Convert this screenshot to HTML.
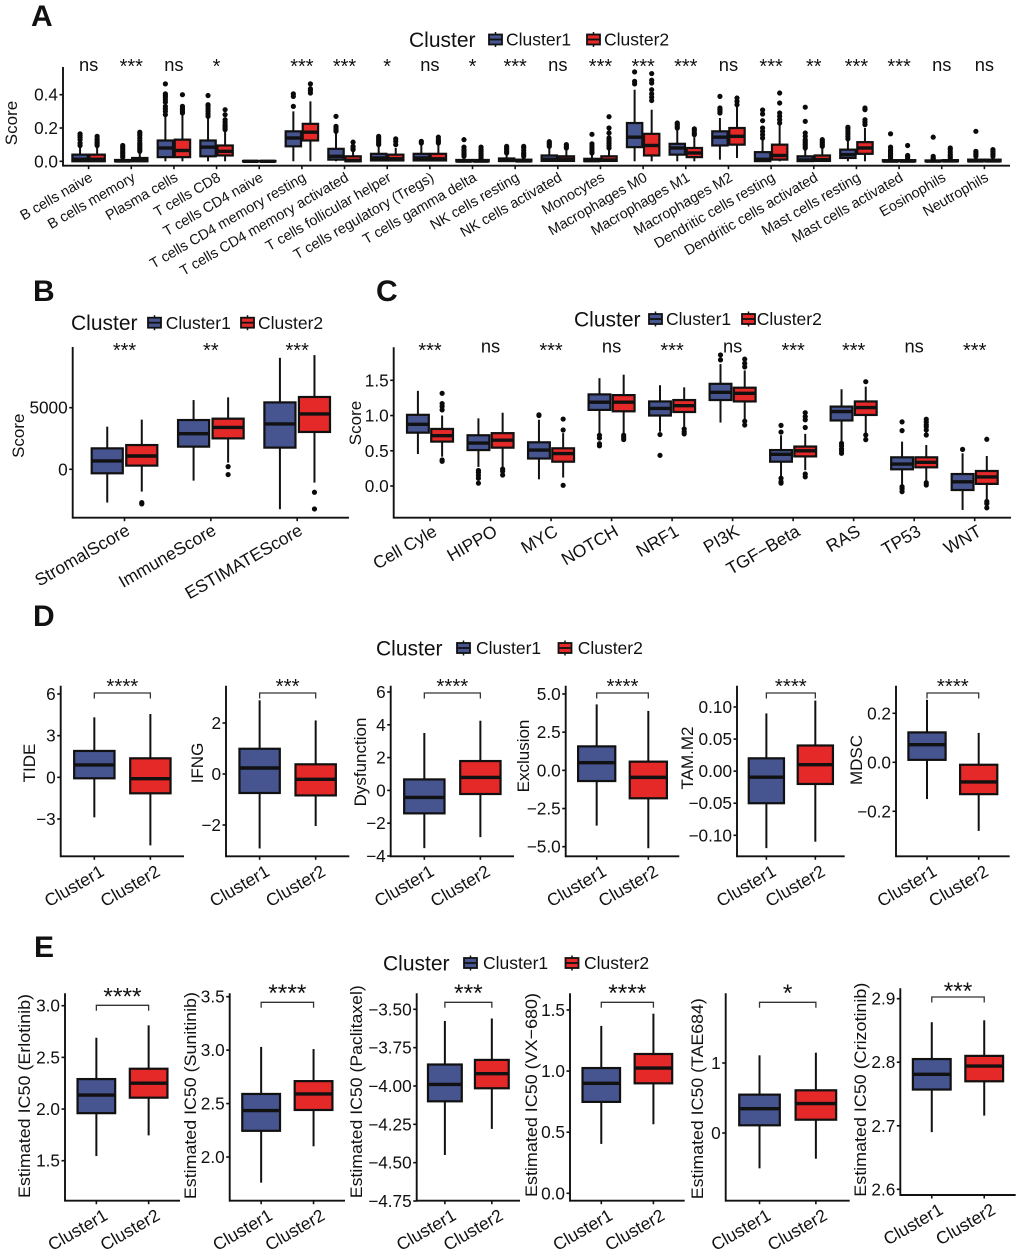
<!DOCTYPE html>
<html lang="en">
<head>
<meta charset="utf-8">
<title>Immune landscape boxplots by cluster</title>
<style>
html,body{margin:0;padding:0;background:#fff;}
svg{display:block;font-family:"Liberation Sans",Arial,sans-serif;filter:blur(0.35px);}
text{fill:#111;}
</style>
</head>
<body>
<svg id="figure" xmlns="http://www.w3.org/2000/svg" width="1020" height="1253" viewBox="0 0 1020 1253">
<rect x="0" y="0" width="1020" height="1253" fill="#fff"/>
<text x="31" y="26" font-size="30" font-weight="bold" fill="#000">A</text>
<text x="33" y="301" font-size="30" font-weight="bold" fill="#000">B</text>
<text x="376" y="301" font-size="30" font-weight="bold" fill="#000">C</text>
<text x="33" y="626" font-size="30" font-weight="bold" fill="#000">D</text>
<text x="34" y="957" font-size="30" font-weight="bold" fill="#000">E</text>
</svg>
<script>
// ---------- Panel A data ----------
const aCategories=['B cells naive','B cells memory','Plasma cells','T cells CD8','T cells CD4 naive','T cells CD4 memory resting','T cells CD4 memory activated','T cells follicular helper','T cells regulatory (Tregs)','T cells gamma delta','NK cells resting','NK cells activated','Monocytes','Macrophages M0','Macrophages M1','Macrophages M2','Dendritic cells resting','Dendritic cells activated','Mast cells resting','Mast cells activated','Eosinophils','Neutrophils'];
const aSignif=['ns','***','ns','*','','***','***','*','ns','*','***','ns','***','***','***','ns','***','**','***','***','ns','ns'];
const aTicks=[0,0.2,0.4];
const aTickLabels=['0.0','0.2','0.4'];
// [low whisker, q1, median, q3, high whisker]
const aCluster1=[[0,0,0.012,0.04,0.09],[0,0,0.002,0.008,0.02],[0,0.025,0.08,0.125,0.27],[0,0.03,0.085,0.125,0.26],[0,0,0,0.002,0.002],[0,0.09,0.14,0.18,0.3],[0,0.01,0.03,0.075,0.17],[0,0.005,0.02,0.045,0.09],[0,0.005,0.02,0.045,0.1],[0,0,0.001,0.008,0.02],[0,0.002,0.005,0.017,0.04],[0,0.002,0.012,0.035,0.08],[0,0.001,0.004,0.015,0.04],[0,0.085,0.145,0.23,0.43],[0,0.04,0.08,0.105,0.19],[0.01,0.095,0.145,0.18,0.26],[0,0.001,0.012,0.055,0.13],[0,0.001,0.008,0.03,0.07],[0,0.02,0.04,0.07,0.125],[0,0,0.001,0.007,0.015],[0,0,0.001,0.005,0.012],[0,0,0.002,0.01,0.025]];
const aCluster2=[[0,0,0.012,0.04,0.09],[0,0,0.005,0.02,0.05],[0,0.025,0.065,0.13,0.28],[0,0.035,0.06,0.095,0.18],[0,0,0,0.002,0.002],[0,0.125,0.175,0.225,0.36],[0,0,0.005,0.03,0.06],[0,0.005,0.015,0.04,0.08],[0,0.005,0.015,0.045,0.1],[0,0,0.001,0.008,0.015],[0,0,0.002,0.01,0.025],[0,0.002,0.012,0.03,0.07],[0,0.002,0.008,0.03,0.07],[0,0.035,0.095,0.165,0.31],[0,0.025,0.05,0.08,0.145],[0.02,0.1,0.15,0.2,0.34],[0,0.01,0.035,0.1,0.225],[0,0.002,0.01,0.035,0.08],[0,0.045,0.08,0.115,0.2],[0,0,0.001,0.007,0.015],[0,0,0.002,0.007,0.015],[0,0,0.002,0.01,0.025]];
const aOutliers1=[[0.095,0.11,0.13,0.145,0.155,0.165],[0.025,0.035,0.045,0.055,0.065,0.075,0.085,0.095],[0.28,0.3,0.315,0.33,0.355,0.37,0.385,0.395,0.405,0.465],[0.27,0.285,0.3,0.315,0.33,0.34,0.395],[],[0.33,0.39,0.405],[0.18,0.19,0.2,0.21,0.27],[0.1,0.11,0.12,0.13,0.14,0.15],[0.11,0.12],[0.03,0.04,0.05,0.06,0.07,0.085,0.13],[0.05,0.06,0.07,0.08,0.09],[0.09,0.1,0.11,0.118],[0.05,0.06,0.075,0.09,0.105,0.162],[0.465,0.48,0.537],[0.2,0.21,0.22,0.23],[0.29,0.3,0.31,0.32,0.39],[0.14,0.16,0.18,0.2,0.244,0.284,0.308],[0.08,0.09,0.1,0.11,0.12,0.13,0.15,0.17,0.24,0.325],[0.135,0.15,0.165,0.18,0.195,0.205],[0.02,0.03,0.04,0.05,0.06,0.07,0.085,0.165],[0.015,0.02,0.03,0.145],[0.03,0.04,0.05,0.06,0.18]];
const aOutliers2=[[0.095,0.105,0.115,0.125,0.135,0.15],[0.06,0.07,0.08,0.09,0.1,0.11,0.125,0.14,0.155,0.165,0.175],[0.29,0.3,0.31,0.32,0.33,0.4],[0.19,0.2,0.21,0.22,0.235,0.25,0.28,0.31],[],[0.41,0.425,0.435,0.465],[0.07,0.08,0.09,0.115],[0.1,0.12,0.135],[0.11,0.12,0.13,0.145],[0.02,0.03,0.04,0.05,0.06,0.07,0.085],[0.03,0.04,0.05,0.065,0.08,0.09],[0.08,0.09,0.1],[0.08,0.095,0.11,0.125,0.14,0.17,0.2,0.268],[0.365,0.385,0.405,0.43,0.47,0.487,0.527],[0.16,0.17,0.185,0.195],[0.34,0.36,0.38],[0.23,0.25,0.27,0.29,0.35,0.41],[0.09,0.1,0.11,0.12,0.13],[0.22,0.235,0.25,0.31,0.32],[0.02,0.03,0.035,0.095],[0.02,0.03,0.04,0.055,0.07,0.08],[0.03,0.04,0.05,0.06,0.07]];

// ---------- Panel B data ----------
const bCategories=['StromalScore','ImmuneScore','ESTIMATEScore'];
const bSignif=['***','**','***'];
const bTicks=[0,5000];
const bTickLabels=['0','5000'];
const bCluster1=[[-2700,-324,675,1700,3460],[-920,1840,2890,4000,5620],[-3240,1760,3680,5430,9050]];
const bCluster2=[[-1810,300,1080,1970,4030],[540,2510,3400,4110,5840],[-1080,3030,4490,5870,9270]];
const bOutliers1=[[],[],[]];
const bOutliers2=[[-2700,-2810],[216,-430],[-1865,-3220]];

// ---------- Panel C data ----------
const cCategories=['Cell Cyle','HIPPO','MYC','NOTCH','NRF1','PI3K','TGF\u2212Beta','RAS','TP53','WNT'];
const cSignif=['***','ns','***','ns','***','ns','***','***','ns','***'];
const cTicks=[0,0.5,1,1.5];
const cTickLabels=['0.0','0.5','1.0','1.5'];
const cCluster1=[[0.454,0.757,0.875,1.01,1.35],[0.27,0.51,0.61,0.72,0.96],[0.095,0.39,0.51,0.62,0.94],[0.75,1.08,1.19,1.3,1.53],[0.77,1,1.1,1.2,1.43],[0.9,1.22,1.33,1.45,1.73],[0.13,0.345,0.45,0.51,0.72],[0.63,0.93,1.056,1.127,1.373],[0.014,0.237,0.312,0.407,0.63],[-0.34,-0.057,0.06,0.17,0.464]];
const cCluster2=[[0.416,0.63,0.714,0.81,1],[0.27,0.544,0.65,0.75,1.04],[0.12,0.345,0.46,0.535,0.75],[0.75,1.06,1.19,1.29,1.58],[0.84,1.05,1.14,1.22,1.4],[0.94,1.2,1.315,1.395,1.64],[0.225,0.42,0.5,0.56,0.74],[0.757,1.008,1.113,1.2,1.41],[0.076,0.265,0.336,0.407,0.582],[-0.2,0.03,0.128,0.213,0.426]];
const cOutliers1=[[],[0.22,0.19,0.15,0.11,0.04],[1,1.01],[0.72,0.68,0.6,0.57],[0.73,0.435],[1.79,1.86],[0.11,0.06,0.04,0.765,0.86],[0.606,0.57,0.53,0.5,0.464],[0.786,0.91,-0.01,-0.04,-0.08],[0.52]];
const cOutliers2=[[1.315,1.17,1.13,1.08,0.37,0.35],[0.24,0.21,0.156],[0.795,0.95,0.01],[0.72,0.69,0.66],[0.81,0.77,0.74],[1.8,1.74,1.69,0.92,0.865],[0.17,0.13,0.83,0.94,0.985,1.04],[1.48,0.724,0.658],[0.724,0.795,0.84,0.87,0.91,0.947,0.047,0.014],[0.663,-0.22,-0.25,-0.31]];

// ---------- Panel D data ----------
const dCategories=['Cluster1','Cluster2'];
const dTitles=['TIDE','IFNG','Dysfunction','Exclusion','TAM.M2','MDSC'];
const dSignif=['****','***','****','****','****','****'];
const dTicks=[[6,3,0,-3],[2,0,-2],[6,4,2,0,-2,-4],[5,2.5,0,-2.5,-5],[0.1,0.05,0,-0.05,-0.1],[0.2,0,-0.2]];
const dTickLabels=[['6','3','0','\u22123'],['2','0','\u22122'],['6','4','2','0','\u22122','\u22124'],['5.0','2.5','0.0','\u22122.5','\u22125.0'],['0.10','0.05','0.00','\u22120.05','\u22120.10'],['0.2','0.0','\u22120.2']];
const dCluster1=[[-2.88,-0.07,0.89,1.9,4.32],[-2.92,-0.745,0.235,0.99,2.89],[-3.52,-1.4,-0.43,0.67,3.5],[-3.62,-0.7,0.5,1.57,4.32],[-0.12,-0.05,-0.0094,0.02,0.09],[-0.15,0.01,0.072,0.122,0.255]];
const dCluster2=[[-4.9,-1.15,-0.1,1.37,4.56],[-2.04,-0.84,-0.21,0.38,2.1],[-2.85,-0.22,0.79,1.79,4.25],[-5.1,-1.83,-0.46,0.57,3.89],[-0.11,-0.02,0.01,0.04,0.11],[-0.28,-0.13,-0.08,-0.01,0.12]];

// ---------- Panel E data ----------
const eCategories=['Cluster1','Cluster2'];
const eTitles=['Estimated IC50 (Erlotinib)','Estimated IC50 (Sunitinib)','Estimated IC50 (Paclitaxel)','Estimated IC50 (VX\u2212680)','Estimated IC50 (TAE684)','Estimated IC50 (Crizotinib)'];
const eSignif=['****','****','***','****','*','***'];
const eTicks=[[3,2.5,2,1.5],[3.5,3,2.5,2],[-3.5,-3.75,-4,-4.25,-4.5,-4.75],[1.5,1,0.5,0],[1,0],[2.9,2.8,2.7,2.6]];
const eTickLabels=[['3.0','2.5','2.0','1.5'],['3.5','3.0','2.5','2.0'],['\u22123.50','\u22123.75','\u22124.00','\u22124.25','\u22124.50','\u22124.75'],['1.5','1.0','0.5','0.0'],['1','0'],['2.9','2.8','2.7','2.6']];
const eCluster1=[[1.545,1.96,2.135,2.29,2.69],[1.76,2.245,2.435,2.59,3.03],[-4.45,-4.1,-3.99,-3.86,-3.576],[0.404,0.748,0.9,1.025,1.37],[-0.505,0.11,0.348,0.548,1.11],[2.69,2.757,2.781,2.805,2.863]];
const eCluster2=[[1.745,2.11,2.25,2.39,2.81],[2.1,2.44,2.59,2.71,3.01],[-4.28,-4.015,-3.92,-3.83,-3.56],[0.565,0.9,1.025,1.14,1.47],[-0.367,0.19,0.42,0.61,1.148],[2.716,2.77,2.794,2.81,2.866]];

// ---------- Styling / layout (pixels live here, not in the data arrays) ----------
const BLUE='#46548f', RED='#e52828', INK='#111111';
const legendNames=['Cluster1','Cluster2'];
const legendFills=[BLUE,RED];
const svg=document.getElementById('figure');
const NS='http://www.w3.org/2000/svg';

function mk(tag,attrs,parent,txt){
  const el=document.createElementNS(NS,tag);
  for(const k in attrs){el.setAttribute(k,attrs[k]);}
  if(txt!==undefined){el.textContent=txt;}
  (parent||svg).appendChild(el);
  return el;
}
function slug(s){return String(s).toLowerCase().replace(/[^a-z0-9]+/g,'-').replace(/^-|-$/g,'');}

// axis functions
function yScale(L){const k=(L.yB-L.yA)/(L.vB-L.vA);return v=>L.yA+(v-L.vA)*k;}
function xScale(L,n){const step=(L.right-L.left)/(n-1+1.2);const f=i=>L.left+(0.6+i)*step;f.step=step;return f;}

function drawBox(g,stats,outliers,cx,w,y,fill,label){
  const wrap=mk('g',{},g);
  
  
  const lo=y(stats[0]),q1=y(stats[1]),med=y(stats[2]),q3=y(stats[3]),hi=y(stats[4]);
  const wl=mk('line',{x1:cx,x2:cx,y1:q1,y2:lo,stroke:INK,'stroke-width':2},wrap);
  
  
  const wh=mk('line',{x1:cx,x2:cx,y1:q3,y2:hi,stroke:INK,'stroke-width':2},wrap);
  
  
  const r=mk('rect',{x:cx-w/2,y:q3,width:w,height:Math.max(q1-q3,0.5),fill:fill,stroke:INK,'stroke-width':2.2},wrap);
  
  
  const m=mk('line',{x1:cx-w/2,x2:cx+w/2,y1:med,y2:med,stroke:INK,'stroke-width':3.4},wrap);
  
  
  (outliers||[]).forEach(v=>{
    const c=mk('circle',{cx:cx,cy:y(v),r:2.6,fill:'#0a0a0a'},wrap);
    
    
  });
}

function drawAxes(g,L,ticks,tickLabels,categories,xs,y,opt){
  const ax=mk('line',{x1:L.left,x2:L.left,y1:L.top,y2:L.base+0.9,stroke:INK,'stroke-width':1.9},g);
  
  
  const bx=mk('line',{x1:L.left,x2:L.right,y1:L.base,y2:L.base,stroke:INK,'stroke-width':1.9},g);
  
  
  ticks.forEach((t,i)=>{
    const ty=y(t);
    const tk=mk('line',{x1:L.left-3.5,x2:L.left,y1:ty,y2:ty,stroke:INK,'stroke-width':1.6},g);
    
    
    const lb=mk('text',{x:L.left-5,y:ty+6,'text-anchor':'end','font-size':17.2},g,tickLabels[i]);
    
    
  });
  categories.forEach((c,i)=>{
    const x=xs(i);
    const tk=mk('line',{x1:x,x2:x,y1:L.base,y2:L.base+3.5,stroke:INK,'stroke-width':1.6},g);
    
    
    const lx=x+opt.dx,ly=L.base+opt.dy;
    const lb=mk('text',{x:0,y:0,'text-anchor':'end','font-size':opt.fs,transform:'translate('+lx+' '+ly+') rotate(-30)'},g,c);
    
    
  });
  if(L.title){
    const attrs={x:0,y:0,'text-anchor':'middle','font-size':L.titleSize||17,transform:'translate('+L.tx+' '+L.ty+') rotate(-90)'};
    if(L.titleLen){attrs.textLength=L.titleLen;attrs.lengthAdjust='spacingAndGlyphs';}
    const t=mk('text',attrs,g,L.title);
    
    
  }
}

function drawLegend(parentName,L){
  const g=mk('g',{});
  
  
  const t=mk('text',{x:L.titleX,y:L.y+7.5,'font-size':21},g,'Cluster');
  
  
  legendNames.forEach((n,i)=>{
    const kx=L.keys[i],lx=L.labels[i];
    const e=mk('g',{},g);
    
    
    mk('line',{x1:kx+6.5,x2:kx+6.5,y1:L.y-7.5,y2:L.y+7.5,stroke:INK,'stroke-width':1.5},e);
    mk('rect',{x:kx,y:L.y-5,width:13,height:10,fill:legendFills[i],stroke:INK,'stroke-width':1.8},e);
    mk('line',{x1:kx,x2:kx+13,y1:L.y,y2:L.y,stroke:INK,'stroke-width':1.8},e);
    const lb=mk('text',{x:lx,y:L.y+6.2,'font-size':17.5},e,n);
    
    
  });
}

function drawDodged(name,L,categories,signif,c1,c2,o1,o2,ticks,tickLabels,opt){
  const g=mk('g',{});
  
  
  const y=yScale(L),xs=xScale(L,categories.length);
  drawAxes(g,L,ticks,tickLabels,categories,xs,y,opt);
  categories.forEach((c,i)=>{
    const x=xs(i),off=xs.step*0.2,w=xs.step*0.36;
    drawBox(g,c1[i],o1[i],x-off,w,y,BLUE,slug(c)+'-cluster1');
    drawBox(g,c2[i],o2[i],x+off,w,y,RED,slug(c)+'-cluster2');
    if(signif[i]){
      const isStar=signif[i].charAt(0)==='*';
      const s=mk('text',{x:x,y:isStar?L.starY:L.nsY,'text-anchor':'middle','font-size':isStar?20:18.3},g,signif[i]);
      
      
    }
  });
}

function drawPaired(name,L,categories,signif,a,b,ticks,tickLabels,opt){
  const g=mk('g',{});
  
  
  const y=yScale(L),xs=xScale(L,2);
  drawAxes(g,L,ticks,tickLabels,categories,xs,y,opt);
  const w=xs.step*0.72;
  drawBox(g,a,[],xs(0),w,y,BLUE,'cluster1');
  drawBox(g,b,[],xs(1),w,y,RED,'cluster2');
  const br=mk('path',{d:'M'+xs(0)+' '+(L.brY+5.5)+'V'+L.brY+'H'+xs(1)+'V'+(L.brY+5.5),fill:'none',stroke:'#333','stroke-width':1.3},g);
  
  
  const s=mk('text',{x:(xs(0)+xs(1))/2,y:L.starY,'text-anchor':'middle','font-size':opt.starFs},g,signif);
  
  
}

// Panel A
drawDodged('panel-a-immune-cell-scores',
  {left:63,right:1010,top:67,base:165.7,vA:0,yA:161.3,vB:0.4,yB:94.7,starY:73,nsY:71,title:'Score',tx:17,ty:123,titleSize:17},
  aCategories,aSignif,aCluster1,aCluster2,aOutliers1,aOutliers2,aTicks,aTickLabels,{dx:5,dy:14.5,fs:14.4});
drawLegend('panel-a',{titleX:409,y:39.5,keys:[489,587],labels:[506,604]});

// Panel B
drawDodged('panel-b-estimate-scores',
  {left:72.7,right:349,top:347,base:517.7,vA:0,yA:469.3,vB:5000,yB:407.7,starY:357,nsY:352,title:'Score',tx:24,ty:435.7,titleSize:17},
  bCategories,bSignif,bCluster1,bCluster2,bOutliers1,bOutliers2,bTicks,bTickLabels,{dx:6.5,dy:16,fs:17.5});
drawLegend('panel-b',{titleX:71,y:322.7,keys:[148,241],labels:[165.7,258]});

// Panel C
drawDodged('panel-c-pathway-scores',
  {left:393.7,right:1011,top:347.3,base:517.7,vA:0,yA:486,vB:1.5,yB:380.3,starY:357,nsY:352.5,title:'Score',tx:361,ty:423,titleSize:17},
  cCategories,cSignif,cCluster1,cCluster2,cOutliers1,cOutliers2,cTicks,cTickLabels,{dx:8,dy:17,fs:17.5});
drawLegend('panel-c',{titleX:574,y:319,keys:[649,742],labels:[666,756.7]});

// Panel D
const dLayout=[
 {left:60.7,right:184,top:685.7,base:856.3,vA:6,yA:694,vB:-3,yB:819,brY:693,starY:693,tx:35,ty:763},
 {left:226,right:349.3,top:685.7,base:856.3,vA:2,yA:723,vB:-2,yB:825,brY:693,starY:693,tx:203,ty:763},
 {left:390.7,right:514,top:685.7,base:856.3,vA:6,yA:692,vB:-4,yB:856,brY:693,starY:693,tx:366,ty:762},
 {left:565.7,right:679.3,top:685.7,base:856.3,vA:5,yA:694,vB:-5,yB:846.7,brY:693,starY:693,tx:529,ty:756},
 {left:737,right:844.7,top:685.7,base:856.3,vA:0.1,yA:707,vB:-0.1,yB:835.3,brY:693,starY:693,tx:693,ty:758},
 {left:896,right:1009.7,top:685.7,base:856.3,vA:0.2,yA:713.3,vB:-0.2,yB:811.3,brY:693,starY:693,tx:862,ty:760}
];
dLayout.forEach((L,i)=>{
  L.title=dTitles[i];
  L.titleSize=17;
  drawPaired('panel-d-'+slug(dTitles[i]),L,dCategories,dSignif[i],dCluster1[i],dCluster2[i],dTicks[i],dTickLabels[i],{dx:11,dy:18.5,fs:17.5,starFs:20.5});
});
drawLegend('panel-d',{titleX:376,y:648,keys:[457,558.5],labels:[476,577.7]});

// Panel E
const eLayout=[
 {left:65,right:180,top:993.3,base:1200.7,vA:3,yA:1005.7,vB:1.5,yB:1160.7,brY:1005.3,starY:1004.5,tx:30,ty:1096,titleLen:204},
 {left:229.7,right:345,top:993.3,base:1200.7,vA:3.5,yA:996.7,vB:2,yB:1157,brY:1002.3,starY:1001,tx:196,ty:1095.6,titleLen:207},
 {left:416.7,right:520,top:993.3,base:1200.7,vA:-3.5,yA:1009.3,vB:-4.75,yB:1201,brY:1002.3,starY:1001,tx:362,ty:1091.7,titleLen:213},
 {left:570,right:684.7,top:993.3,base:1200.7,vA:1.5,yA:1010,vB:0,yB:1193.3,brY:1002.3,starY:1001,tx:537,ty:1095,titleLen:204},
 {left:725.7,right:849.7,top:993.3,base:1200.7,vA:1,yA:1063,vB:0,yB:1133,brY:1002.3,starY:1001,tx:703,ty:1098.7,titleLen:201},
 {left:900.3,right:1015.7,top:988.3,base:1195,vA:2.9,yA:998.7,vB:2.6,yB:1189.3,brY:997,starY:999,tx:866,ty:1089.7,titleLen:214}
];
eLayout.forEach((L,i)=>{
  L.title=eTitles[i];
  L.titleSize=17;
  drawPaired('panel-e-'+slug(eTitles[i]),L,eCategories,eSignif[i],eCluster1[i],eCluster2[i],eTicks[i],eTickLabels[i],{dx:12.5,dy:18,fs:17.5,starFs:24.5});
});
drawLegend('panel-e',{titleX:383,y:963,keys:[464,565.5],labels:[483,584]});
</script>
</body>
</html>
